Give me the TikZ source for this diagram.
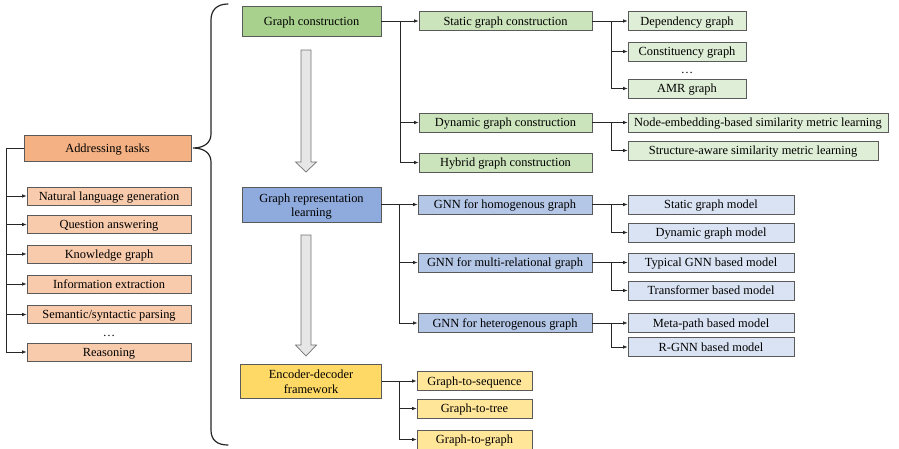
\documentclass[tikz,border=0pt]{standalone}
\usepackage{fontspec}
\setmainfont{Liberation Serif}
\usetikzlibrary{arrows.meta,calc}
\definecolor{orA}{HTML}{F4B183}
\definecolor{orB}{HTML}{F8CBAD}
\definecolor{grA}{HTML}{A9D18E}
\definecolor{grB}{HTML}{CCE4BC}
\definecolor{grC}{HTML}{DFEED6}
\definecolor{blA}{HTML}{8FAADC}
\definecolor{blB}{HTML}{B4C7E7}
\definecolor{blC}{HTML}{DAE3F3}
\definecolor{ylA}{HTML}{FFD966}
\definecolor{ylB}{HTML}{FFE699}
\definecolor{bord}{HTML}{5A5A5A}
\definecolor{bigarr}{HTML}{E6E6E6}
\begin{document}
\begin{tikzpicture}[x=1pt,y=-1pt,
  font=\fontsize{12.4}{14.5}\selectfont,
  box/.style={draw=bord,line width=0.8pt,inner sep=0pt,minimum height=19pt},
  one/.style={text height=1.05em,text depth=0.2em},
  two/.style={align=center,text height=26pt,text depth=2pt},
  conn/.style={draw=black!85,line width=0.7pt},
  arr/.style={conn,-{Latex[length=4.5pt,width=3.6pt]}},
  bigarrow/.style={draw=black!55,fill=bigarr,line width=0.7pt},
  brace/.style={draw=black!85,line width=1.2pt,line cap=round}]
\useasboundingbox (0,0) rectangle (899,448);
\fill[white] (0,0) rectangle (899,448);

% left column
\node[box,one,fill=orA,minimum width=167pt,minimum height=26pt] (at) at (107.5,148) {Addressing tasks};
\node[box,one,fill=orB,minimum width=164pt,minimum height=18pt] (nlg) at (109,196) {Natural language generation};
\node[box,one,fill=orB,minimum width=164pt,minimum height=18pt] (qa) at (109,224.5) {Question answering};
\node[box,one,fill=orB,minimum width=164pt,minimum height=18pt] (kg) at (109,254) {Knowledge graph};
\node[box,one,fill=orB,minimum width=164pt,minimum height=18pt] (ie) at (109,284) {Information extraction};
\node[box,one,fill=orB,minimum width=164pt,minimum height=18pt] (sp) at (109,314.5) {Semantic/syntactic parsing};
\node (tdots) at (109,336) {\dots};
\node[box,one,fill=orB,minimum width=164pt,minimum height=18pt] (re) at (109,352) {Reasoning};
\coordinate (ja) at (6,148);
\draw[conn] (at.west) -- (ja);
\foreach \t in {nlg,qa,kg,ie,sp,re} \draw[arr] (ja) |- (\t.west);

% brace
\draw[brace] (228,4) .. controls (217,4) and (211,10) .. (211,20) -- (211,134)
  .. controls (211,142) and (205,148) .. (193,148)
  .. controls (205,148) and (211,154) .. (211,162) -- (211,430)
  .. controls (211,440) and (217,445) .. (228,445);

% graph construction
\node[box,one,fill=grA,minimum width=139pt,minimum height=30pt] (gc) at (311.5,21) {Graph construction};
\node[box,one,fill=grB,minimum width=173pt] (sgc) at (505.5,21) {Static graph construction};
\node[box,one,fill=grB,minimum width=173pt] (dgc) at (505.5,122.5) {Dynamic graph construction};
\node[box,one,fill=grB,minimum width=173pt] (hgc) at (505.5,162.5) {Hybrid graph construction};
\node[box,one,fill=grC,minimum width=118pt] (dep) at (687,21) {Dependency graph};
\node[box,one,fill=grC,minimum width=118pt] (con) at (687,51.5) {Constituency graph};
\node (sdots) at (687,73) {\dots};
\node[box,one,fill=grC,minimum width=118pt] (amr) at (687,88.5) {AMR graph};
\node[box,one,fill=grC,minimum width=260pt] (ne) at (758,122.5) {Node-embedding-based similarity metric learning};
\node[box,one,fill=grC,minimum width=250pt] (sa) at (753,150.5) {Structure-aware similarity metric learning};
\coordinate (j1) at (400,21);
\draw[conn] (gc.east) -- (j1);
\foreach \t in {sgc,dgc,hgc} \draw[arr] (j1) |- (\t.west);
\coordinate (j2) at (611,21);
\draw[conn] (sgc.east) -- (j2);
\foreach \t in {dep,con,amr} \draw[arr] (j2) |- (\t.west);
\coordinate (j3) at (611,122.5);
\draw[conn] (dgc.east) -- (j3);
\foreach \t in {ne,sa} \draw[arr] (j3) |- (\t.west);

% graph representation learning
\node[box,two,fill=blA,minimum width=139pt,minimum height=35pt] (grl) at (311.5,204.5) {Graph representation\\learning};
\node[box,one,fill=blB,minimum width=174pt] (gh) at (505,204.5) {GNN for homogenous graph};
\node[box,one,fill=blB,minimum width=174pt] (gm) at (505,262.5) {GNN for multi-relational graph};
\node[box,one,fill=blB,minimum width=174pt] (ght) at (505,323) {GNN for heterogenous graph};
\node[box,one,fill=blC,minimum width=166pt] (sgm) at (711,204.5) {Static graph model};
\node[box,one,fill=blC,minimum width=166pt] (dgm) at (711,232.5) {Dynamic graph model};
\node[box,one,fill=blC,minimum width=166pt] (tg) at (711,262.5) {Typical GNN based model};
\node[box,one,fill=blC,minimum width=166pt] (tr) at (711,290.5) {Transformer based model};
\node[box,one,fill=blC,minimum width=166pt] (mp) at (711,323) {Meta-path based model};
\node[box,one,fill=blC,minimum width=166pt] (rg) at (711,347) {R-GNN based model};
\coordinate (j4) at (399,204.5);
\draw[conn] (grl.east) -- (j4);
\foreach \t in {gh,gm,ght} \draw[arr] (j4) |- (\t.west);
\coordinate (j5) at (611,204.5);
\draw[conn] (gh.east) -- (j5);
\foreach \t in {sgm,dgm} \draw[arr] (j5) |- (\t.west);
\coordinate (j6) at (611,262.5);
\draw[conn] (gm.east) -- (j6);
\foreach \t in {tg,tr} \draw[arr] (j6) |- (\t.west);
\coordinate (j7) at (611,323);
\draw[conn] (ght.east) -- (j7);
\foreach \t in {mp,rg} \draw[arr] (j7) |- (\t.west);

% encoder-decoder
\node[box,two,fill=ylA,minimum width=141pt,minimum height=34pt] (ed) at (311,381) {Encoder-decoder\\framework};
\node[box,one,fill=ylB,minimum width=115pt] (gs) at (474.5,381) {Graph-to-sequence};
\node[box,one,fill=ylB,minimum width=115pt] (gt) at (474.5,408.5) {Graph-to-tree};
\node[box,one,fill=ylB,minimum width=115pt] (gg) at (474.5,439.5) {Graph-to-graph};
\coordinate (j8) at (399,381);
\draw[conn] (ed.east) -- (j8);
\foreach \t in {gs,gt,gg} \draw[arr] (j8) |- (\t.west);

% big arrows
\draw[bigarrow] (301,50) -- (311,50) -- (311,162) -- (316.5,162) -- (306,172) -- (295.5,162) -- (301,162) -- cycle;
\draw[bigarrow] (301,235) -- (311,235) -- (311,345) -- (316.5,345) -- (306,356) -- (295.5,345) -- (301,345) -- cycle;
\end{tikzpicture}
\end{document}
